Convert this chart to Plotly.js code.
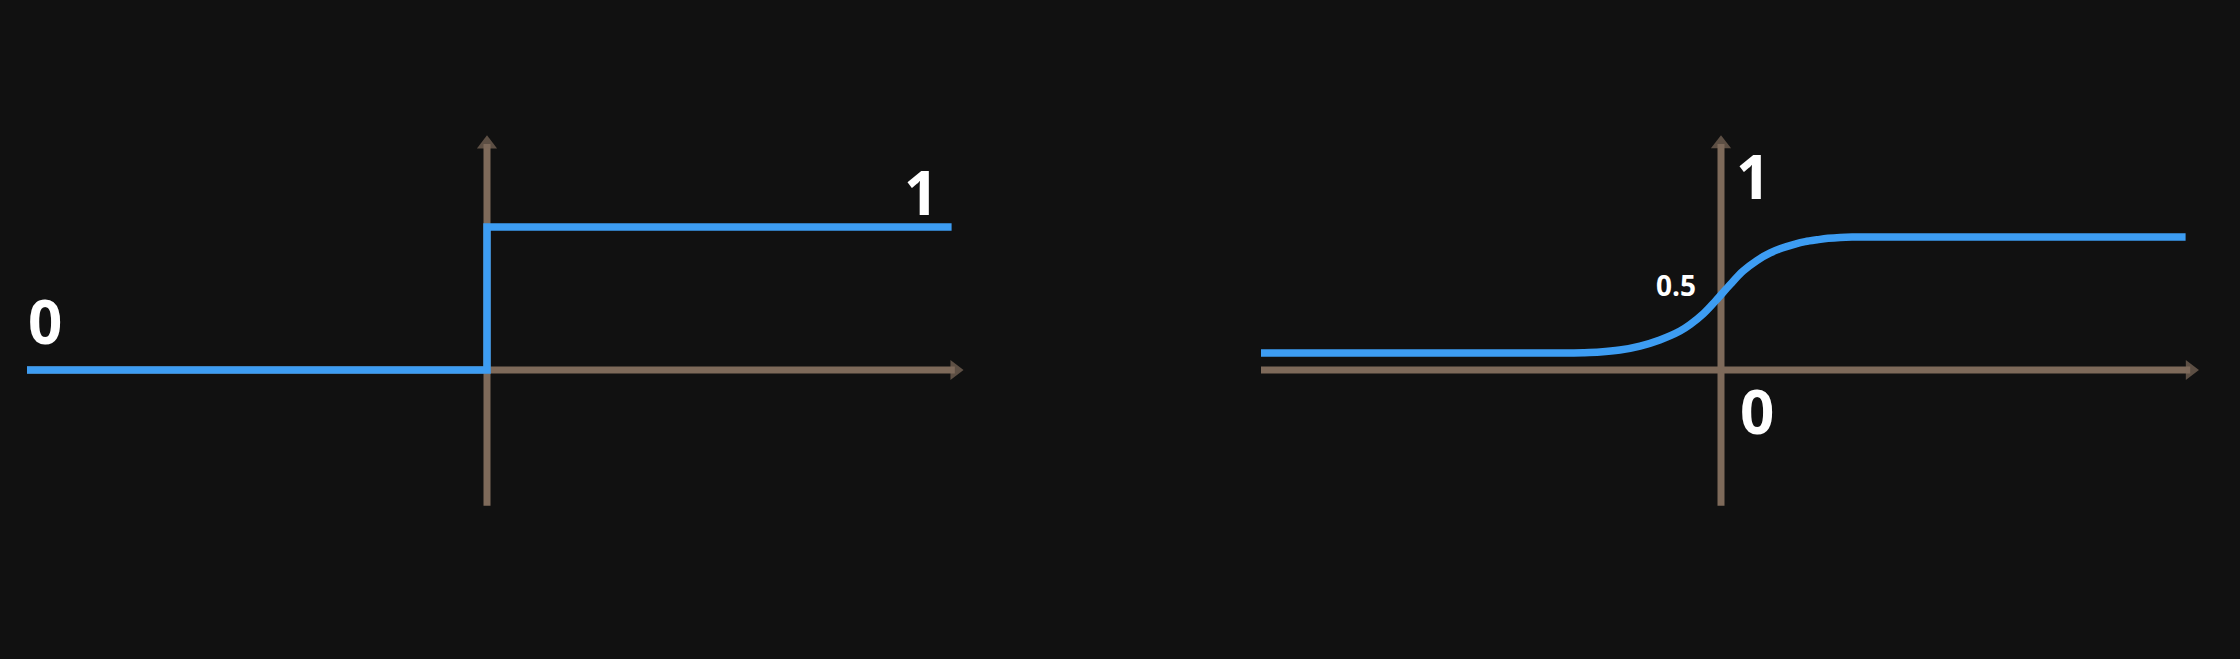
<!DOCTYPE html>
<html>
<head>
<meta charset="utf-8">
<script src="https://cdn.plot.ly/plotly-3.0.1.min.js"></script>
<style>
  html, body { margin: 0; padding: 0; background: #111111; }
  #chart { width: 2240px; height: 659px; }
</style>
</head>
<body>
<div id="chart"></div>
<script>
// step function (left panel)
const stepX = [-1, 0, 1.01];
const stepY = [0, 1, 1];

// sigmoid-like curve (right panel)
const sigX = [-1, -0.35, -0.3, -0.263, -0.22, -0.176, -0.133, -0.089, -0.067, -0.039, -0.011,
    0.02, 0.048, 0.078, 0.107, 0.133, 0.161, 0.183, 0.209, 0.233, 0.259, 0.285, 1.01];
const sigY = [0.128, 0.128, 0.13, 0.135, 0.15, 0.18, 0.226, 0.293, 0.342, 0.421, 0.523,
    0.643, 0.744, 0.823, 0.88, 0.917, 0.947, 0.965, 0.979, 0.99, 0.997, 1.0, 1.0];

// axis extents [start, end] in each panel
const leftAxisX = [-1, 1.017];
const leftAxisY = [-0.95, 1.58];
const rightAxisX = [-1, 1.02];
const rightAxisY = [-1.02, 1.70];

// labels
const leftLabels = {text: ['0', '1'], x: [-0.96, 0.943], y: [0.343, 1.245]};
const rightLabels = {text: ['1', '0.5', '0'], x: [0.07, -0.098, 0.078], y: [1.459, 0.639, -0.308]};

const blue = '#3d9df3';
const brown = '#7e6a5a';
const bg = '#111111';

function axisTraces(ax, ay, xa, ya) {
    return [
        {
            type: 'scatter', mode: 'lines+markers',
            x: [ax[0], ax[1]], y: [0, 0],
            xaxis: xa, yaxis: ya,
            line: {color: brown, width: 7},
            marker: {symbol: 'triangle-right', size: [0, 17.5], color: brown, line: {width: 0}},
            hoverinfo: 'skip'
        },
        {
            type: 'scatter', mode: 'lines+markers',
            x: [0, 0], y: [ay[0], ay[1]],
            xaxis: xa, yaxis: ya,
            line: {color: brown, width: 7},
            marker: {symbol: 'triangle-up', size: [0, 17.5], color: brown, line: {width: 0}},
            hoverinfo: 'skip'
        }
    ];
}

const traces = [
    ...axisTraces(leftAxisX, leftAxisY, 'x', 'y'),
    ...axisTraces(rightAxisX, rightAxisY, 'x2', 'y2'),
    {
        type: 'scatter', mode: 'lines',
        x: stepX, y: stepY,
        xaxis: 'x', yaxis: 'y',
        line: {color: blue, width: 7.5, shape: 'hv'},
        hoverinfo: 'skip'
    },
    {
        type: 'scatter', mode: 'lines',
        x: sigX, y: sigY,
        xaxis: 'x2', yaxis: 'y2',
        line: {color: blue, width: 7.5, shape: 'spline', smoothing: 1, simplify: false},
        hoverinfo: 'skip'
    }
];

function labelAnnotations(lab, xr, yr) {
    return lab.text.map(function (t, i) {
        return {
            text: t, x: lab.x[i], y: lab.y[i], xref: xr, yref: yr,
            showarrow: false,
            font: {family: 'Open Sans, Noto Sans, sans-serif', size: t === '0.5' ? 28 : 60,
                   color: '#ffffff', weight: 'bold'}
        };
    });
}

const hidden = {visible: false, showgrid: false, zeroline: false, fixedrange: true};

const layout = {
    width: 2240,
    height: 659,
    paper_bgcolor: bg,
    plot_bgcolor: bg,
    margin: {l: 0, r: 0, t: 0, b: 0, pad: 0},
    showlegend: false,
    // 460 px per x unit; origin at 487 px (left) and 1721 px (right); y origin at 370 px
    xaxis: Object.assign({domain: [0, 0.5], range: [-487 / 460, 633 / 460]}, hidden),
    yaxis: Object.assign({domain: [0, 1], range: [-289 / 143, 370 / 143]}, hidden),
    xaxis2: Object.assign({domain: [0.5, 1], range: [-601 / 460, 519 / 460], anchor: 'y2'}, hidden),
    yaxis2: Object.assign({domain: [0, 1], range: [-289 / 133, 370 / 133], anchor: 'x2'}, hidden),
    annotations: [
        ...labelAnnotations(leftLabels, 'x', 'y'),
        ...labelAnnotations(rightLabels, 'x2', 'y2')
    ]
};

Plotly.newPlot('chart', traces, layout, {staticPlot: true, displayModeBar: false});
</script>
</body>
</html>
